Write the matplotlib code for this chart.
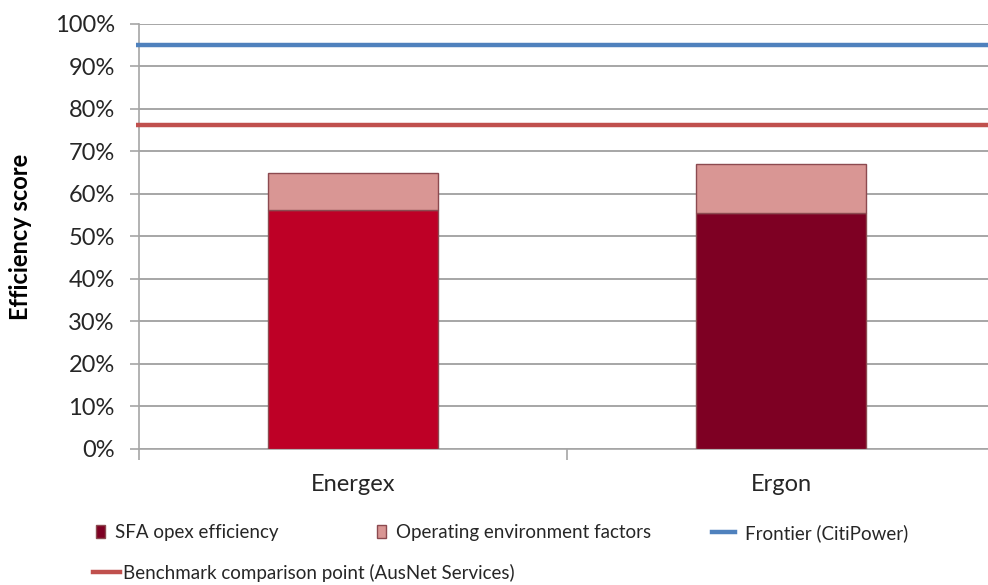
import matplotlib
matplotlib.use("Agg")
import matplotlib.pyplot as plt
from matplotlib.patches import Patch
from matplotlib.lines import Line2D
import numpy as np

plt.rcParams['font.family'] = ['Lato', 'DejaVu Sans']

# Data
categories = ["Energex", "Ergon"]
sfa_efficiency = [56.2, 55.5]          # %
operating_env = [8.8, 11.6]            # % added on top
frontier_citipower = 95.0              # %
benchmark_ausnet = 76.2                # %
y_ticks = [0, 10, 20, 30, 40, 50, 60, 70, 80, 90, 100]

sfa_colors = ["#BE0026", "#7E0023"]
oef_color = "#D99694"
edge_color = "#8C4A50"
frontier_color = "#4F81BD"
benchmark_color = "#C0504D"
grid_color = "#A6A6A6"
text_color = "#262626"

fig = plt.figure(figsize=(9.88, 5.85), dpi=100)
ax = fig.add_axes([0.1407, 0.2325, 0.8664, 0.7265])

x = np.arange(len(categories))
width = 0.397
bars_sfa = ax.bar(x, sfa_efficiency, width, color=sfa_colors,
                  edgecolor=edge_color, linewidth=1.0, zorder=3)
bars_oef = ax.bar(x, operating_env, width, bottom=sfa_efficiency, color=oef_color,
                  edgecolor=edge_color, linewidth=1.0, zorder=3)

ax.set_xlim(-0.5, 1.5)
ax.set_ylim(0, 100)
line_front = ax.axhline(frontier_citipower, color=frontier_color, lw=3.2, zorder=4,
                        solid_capstyle='butt', xmin=-0.003, clip_on=False)
line_bench = ax.axhline(benchmark_ausnet, color=benchmark_color, lw=3.2, zorder=4,
                        solid_capstyle='butt', xmin=-0.003, clip_on=False)

# Gridlines and axes styling
ax.set_yticks(y_ticks)
ax.set_yticklabels([f"{v}%" for v in y_ticks])
ax.yaxis.grid(True, color=grid_color, lw=1.4, zorder=0)
ax.set_axisbelow(True)
for s in ["top", "right"]:
    ax.spines[s].set_visible(False)
for s in ["left", "bottom"]:
    ax.spines[s].set_color(grid_color)
    ax.spines[s].set_linewidth(1.2)
ax.tick_params(axis='y', length=6.5, width=1.2, color=grid_color, pad=11,
               labelsize=17, labelcolor=text_color)

ax.set_xticks(x)
ax.set_xticklabels(categories)
ax.set_xticks([-0.5, 0.5, 1.5], minor=True)
ax.tick_params(axis='x', which='major', length=0, pad=18, labelsize=17,
               labelcolor=text_color)
ax.tick_params(axis='x', which='minor', length=8, width=1.2, color=grid_color)

fig.text(0.021, 0.595, "Efficiency score", rotation=90, ha='center', va='center',
         fontsize=17, fontweight='bold', color='black')

# Legend entries placed individually
def add_entry(handle, label, xpos, ypos, hlen, hpad):
    fig.legend([handle], [label], loc='center left', bbox_to_anchor=(xpos, ypos),
               frameon=False, fontsize=13.5, handlelength=hlen, handleheight=0.7,
               handletextpad=hpad, borderaxespad=0, borderpad=0,
               labelcolor=text_color)

sfa_handle = Patch(facecolor=sfa_colors[1], edgecolor=edge_color, linewidth=1.0)
oef_handle = Patch(facecolor=oef_color, edgecolor=edge_color, linewidth=1.0)
front_handle = Line2D([], [], color=frontier_color, lw=3.2)
bench_handle = Line2D([], [], color=benchmark_color, lw=3.2)

add_entry(sfa_handle, "SFA opex efficiency", 0.0972, 0.0889, 0.5, 0.5)
add_entry(oef_handle, "Operating environment factors", 0.3816, 0.0889, 0.5, 0.5)
add_entry(front_handle, "Frontier (CitiPower)", 0.7206, 0.0889, 1.25, 0.5)
add_entry(bench_handle, "Benchmark comparison point (AusNet Services)", 0.094, 0.021, 1.45, 0.15)

fig.savefig("out.png", dpi=100)
